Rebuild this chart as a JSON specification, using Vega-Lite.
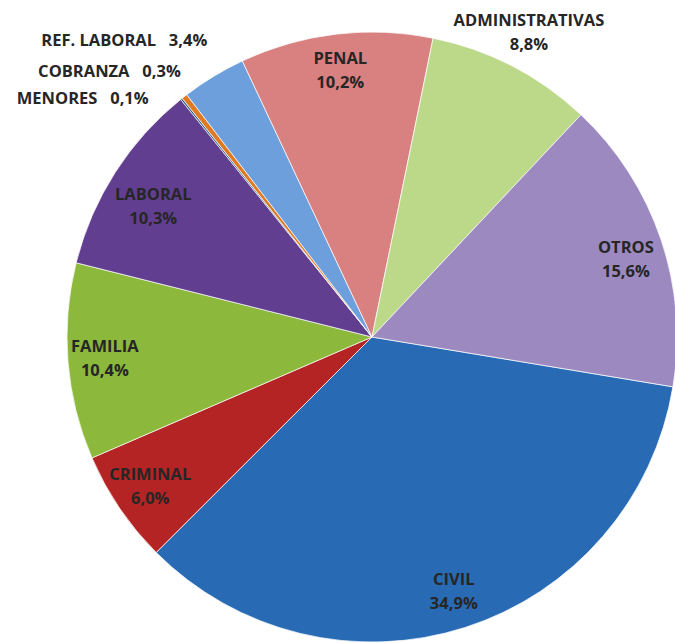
{
  "$schema": "https://vega.github.io/schema/vega-lite/v6.json",
  "autosize": {"type": "none"},
  "padding": {"left": 69, "top": 31, "right": 0, "bottom": 0},
  "width": 606,
  "height": 612,
  "background": "#ffffff",
  "view": {"stroke": null},
  "config": {"text": {"font": "Open Sans", "fontWeight": "bold", "fontSize": 16.5, "color": "#262626", "align": "center", "baseline": "middle", "lineHeight": 24, "lineBreak": "\n"}},
  "data": {
    "values": [
      {"i": 1, "cat": "CIVIL", "v": 34.9, "label": "CIVIL\n34,9%"},
      {"i": 2, "cat": "CRIMINAL", "v": 6.0, "label": "CRIMINAL\n6,0%"},
      {"i": 3, "cat": "FAMILIA", "v": 10.4, "label": "FAMILIA\n10,4%"},
      {"i": 4, "cat": "LABORAL", "v": 10.3, "label": "LABORAL\n10,3%"},
      {"i": 5, "cat": "MENORES", "v": 0.1, "label": "MENORES\u00a0\u00a0\u00a00,1%"},
      {"i": 6, "cat": "COBRANZA", "v": 0.3, "label": "COBRANZA\u00a0\u00a0\u00a00,3%"},
      {"i": 7, "cat": "REF. LABORAL", "v": 3.4, "label": "REF. LABORAL\u00a0\u00a0\u00a03,4%"},
      {"i": 8, "cat": "PENAL", "v": 10.2, "label": "PENAL\n10,2%"},
      {"i": 9, "cat": "ADMINISTRATIVAS", "v": 8.8, "label": "ADMINISTRATIVAS\n8,8%"},
      {"i": 10, "cat": "OTROS", "v": 15.6, "label": "OTROS\n15,6%"}
    ]
  },
  "encoding": {
    "theta": {"field": "v", "type": "quantitative", "stack": true, "scale": {"domain": [0, 100], "range": [1.735, 8.018]}},
    "order": {"field": "i", "type": "quantitative"}
  },
  "layer": [
    {
      "mark": {"type": "arc", "outerRadius": 305, "stroke": "#ffffff", "strokeWidth": 1, "strokeOpacity": 0.7},
      "encoding": {
        "color": {
          "field": "cat", "type": "nominal", "legend": null,
          "scale": {
            "domain": ["CIVIL", "CRIMINAL", "FAMILIA", "LABORAL", "MENORES", "COBRANZA", "REF. LABORAL", "PENAL", "ADMINISTRATIVAS", "OTROS"],
            "range": ["#286bb4", "#b52424", "#8cb83c", "#623e91", "#2e5f8a", "#e07a22", "#6c9fdb", "#d98080", "#bcd98a", "#9c89bf"]
          }
        }
      }
    },
    {
      "mark": {"type": "text", "radius": 268, "dy": -12},
      "encoding": {
        "text": {"condition": {"test": "indexof(['CIVIL','CRIMINAL','FAMILIA','PENAL'], datum.cat) >= 0", "field": "label"}, "value": ""}
      }
    },
    {
      "mark": {"type": "text", "radius": 268, "dy": -3},
      "encoding": {
        "text": {"condition": {"test": "datum.cat == 'OTROS'", "field": "label"}, "value": ""}
      }
    },
    {
      "mark": {"type": "text", "radius": 268, "dx": 7, "dy": 2},
      "encoding": {
        "text": {"condition": {"test": "datum.cat == 'LABORAL'", "field": "label"}, "value": ""}
      }
    },
    {
      "mark": {"type": "text", "radius": 341, "dy": -13},
      "encoding": {
        "text": {"condition": {"test": "datum.cat == 'ADMINISTRATIVAS'", "field": "label"}, "value": ""}
      }
    },
    {
      "mark": {"type": "text", "radius": 375, "dx": -53, "dy": 24},
      "encoding": {
        "text": {"condition": {"test": "datum.cat == 'REF. LABORAL'", "field": "label"}, "value": ""}
      }
    },
    {
      "mark": {"type": "text", "radius": 375, "dx": -32, "dy": 31},
      "encoding": {
        "text": {"condition": {"test": "datum.cat == 'COBRANZA'", "field": "label"}, "value": ""}
      }
    },
    {
      "mark": {"type": "text", "radius": 375, "dx": -55, "dy": 55},
      "encoding": {
        "text": {"condition": {"test": "datum.cat == 'MENORES'", "field": "label"}, "value": ""}
      }
    }
  ]
}
